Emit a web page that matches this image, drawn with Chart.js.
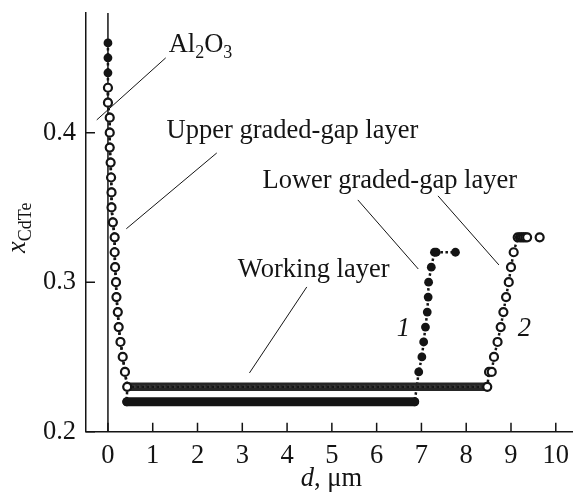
<!DOCTYPE html>
<html>
<head>
<meta charset="utf-8">
<script src="https://cdn.jsdelivr.net/npm/chart.js@4.4.1/dist/chart.umd.min.js"></script>
<style>
  html, body { margin: 0; padding: 0; background: #fff; }
  #wrap { width: 579px; height: 500px; }
</style>
</head>
<body>
<div id="wrap"><canvas id="profile" width="579" height="500"></canvas></div>
<script>
// profile 1 (filled dots): depth d (um) and CdTe fraction
var d1 = [0, 0, 0, 0, 0, 0.04, 0.04, 0.04, 0.06, 0.07, 0.08, 0.08, 0.11, 0.15, 0.15, 0.16, 0.18, 0.19, 0.22, 0.24, 0.28, 0.33, 0.38, 0.43, 0.42,
          6.85, 6.94, 7.01, 7.05, 7.09, 7.13, 7.15, 7.16, 7.22, 7.29, 7.33, 7.76];
var x1 = [0.46, 0.45, 0.44, 0.43, 0.42, 0.41, 0.40, 0.39, 0.38, 0.37, 0.36, 0.35, 0.34, 0.33, 0.32, 0.31, 0.30, 0.29, 0.28, 0.27, 0.26, 0.25, 0.24, 0.23, 0.22,
          0.22, 0.24, 0.25, 0.26, 0.27, 0.28, 0.29, 0.30, 0.31, 0.32, 0.32, 0.32];
// working layer of profile 1, too dense to resolve single dots
var d1Band = [0.42, 6.85];
var x1Band = [0.22, 0.22];

// profile 2 (open dots)
var d2 = [0, 0, 0.04, 0.04, 0.04, 0.06, 0.07, 0.08, 0.08, 0.11, 0.15, 0.15, 0.16, 0.18, 0.19, 0.22, 0.24, 0.28, 0.33, 0.38, 0.43,
          8.47, 8.51, 8.57, 8.62, 8.70, 8.77, 8.83, 8.89, 8.95, 9.00, 9.06, 9.15, 9.20, 9.24, 9.28, 9.32, 9.36, 9.64];
var x2 = [0.43, 0.42, 0.41, 0.40, 0.39, 0.38, 0.37, 0.36, 0.35, 0.34, 0.33, 0.32, 0.31, 0.30, 0.29, 0.28, 0.27, 0.26, 0.25, 0.24, 0.23,
          0.23, 0.24, 0.24, 0.25, 0.26, 0.27, 0.28, 0.29, 0.30, 0.31, 0.32, 0.33, 0.33, 0.33, 0.33, 0.33, 0.33, 0.33];
var d2Band = [0.43, 8.47];
var x2Band = [0.23, 0.23];

// substrate interface
var dEdge = [0, 0];
var xEdge = [0.2, 0.48];

var yTicks = [0.2, 0.3, 0.4];

function pts(ds, xs) {
  return ds.map(function (d, i) { return { x: d, y: xs[i] }; });
}

var FONT = '"Liberation Serif", "Times New Roman", serif';
var INK = '#141414';

// callouts, in data units
var leaders = [
  [1.29, 0.450, -0.25, 0.4085],
  [2.43, 0.3864, 0.41, 0.3357],
  [5.58, 0.355, 6.93, 0.3088],
  [7.37, 0.3577, 8.73, 0.3115],
  [4.44, 0.2968, 3.16, 0.2393]
];
var notes = [
  { d: 1.355, x: 0.454, runs: [{ t: 'Al' }, { t: '2', sub: true }, { t: 'O' }, { t: '3', sub: true }] },
  { d: 1.31, x: 0.3965, runs: [{ t: 'Upper graded-gap layer' }] },
  { d: 3.45, x: 0.363, runs: [{ t: 'Lower graded-gap layer' }] },
  { d: 2.90, x: 0.3035, runs: [{ t: 'Working layer' }] },
  { d: 6.45, x: 0.264, runs: [{ t: '1', it: true }] },
  { d: 9.15, x: 0.264, runs: [{ t: '2', it: true }] }
];

function runFont(r) {
  return (r.it ? 'italic ' : '') + (r.sub ? 18 : 26.5) + 'px ' + FONT;
}
function runsWidth(ctx, runs) {
  var w = 0;
  runs.forEach(function (r) { ctx.font = runFont(r); w += ctx.measureText(r.t).width; });
  return w;
}
function drawRuns(ctx, runs, x, y) {
  runs.forEach(function (r) {
    ctx.font = runFont(r);
    ctx.fillText(r.t, x, y + (r.sub ? 6 : 0));
    x += ctx.measureText(r.t).width;
  });
}

var decor = {
  id: 'decor',
  afterDraw: function (chart) {
    var ctx = chart.ctx, xs = chart.scales.x, ys = chart.scales.y, a = chart.chartArea;
    ctx.save();
    ctx.strokeStyle = INK;
    ctx.fillStyle = INK;

    // inward ticks
    ctx.lineWidth = 1.5;
    ctx.beginPath();
    xs.ticks.forEach(function (t) {
      var px = xs.getPixelForValue(t.value);
      ctx.moveTo(px, a.bottom);
      ctx.lineTo(px, a.bottom - 9);
    });
    ys.ticks.forEach(function (t) {
      var py = ys.getPixelForValue(t.value);
      ctx.moveTo(a.left, py);
      ctx.lineTo(a.left + 9, py);
    });
    ctx.stroke();

    // callout lines
    ctx.lineWidth = 1;
    leaders.forEach(function (l) {
      ctx.beginPath();
      ctx.moveTo(xs.getPixelForValue(l[0]), ys.getPixelForValue(l[1]));
      ctx.lineTo(xs.getPixelForValue(l[2]), ys.getPixelForValue(l[3]));
      ctx.stroke();
    });

    ctx.textBaseline = 'alphabetic';
    ctx.textAlign = 'left';
    notes.forEach(function (n) {
      drawRuns(ctx, n.runs, xs.getPixelForValue(n.d), ys.getPixelForValue(n.x));
    });

    // x axis title
    var xt = [{ t: 'd', it: true }, { t: ', \u03bcm' }];
    var w = runsWidth(ctx, xt);
    drawRuns(ctx, xt, (a.left + a.right) / 2 + 2 - w / 2, 486);

    // y axis title
    ctx.translate(25, 253);
    ctx.rotate(-Math.PI / 2);
    drawRuns(ctx, [{ t: 'x', it: true }, { t: 'CdTe', sub: true }], 0, 0);
    ctx.restore();
  }
};

var dotted = [2.5, 2.5];

new Chart(document.getElementById('profile').getContext('2d'), {
  type: 'scatter',
  data: {
    datasets: [
      {
        data: pts(d2, x2), order: 0, showLine: true,
        borderColor: INK, borderWidth: 2.5, borderDash: dotted,
        pointRadius: 4, pointBorderWidth: 2.2, pointBorderColor: INK, pointBackgroundColor: '#fff',
        segment: { borderColor: function (c) { return c.p1DataIndex === d2.length - 1 ? 'rgba(0,0,0,0)' : undefined; } }
      },
      {
        data: pts(d2Band, x2Band), order: 1, showLine: true,
        borderColor: '#6e6e6e', borderWidth: 2.5, borderDash: [3, 2], pointRadius: 0
      },
      {
        data: pts(d2Band, x2Band), order: 2, showLine: true,
        borderColor: '#262626', borderWidth: 8.5, borderCapStyle: 'round', pointRadius: 0
      },
      {
        data: pts(d1Band, x1Band), order: 3, showLine: true,
        borderColor: INK, borderWidth: 9, borderCapStyle: 'round', pointRadius: 0
      },
      {
        data: pts(d1, x1), order: 4, showLine: true,
        borderColor: INK, borderWidth: 2.5, borderDash: dotted,
        pointRadius: 4.4, pointBorderWidth: 0, pointBackgroundColor: INK
      },
      {
        data: pts(dEdge, xEdge), order: 5, showLine: true,
        borderColor: INK, borderWidth: 1.5, pointRadius: 0
      }
    ]
  },
  options: {
    responsive: false,
    animation: false,
    layout: { padding: { top: 13, right: 0, bottom: 0, left: 0 } },
    plugins: { legend: { display: false }, tooltip: { enabled: false } },
    scales: {
      x: {
        type: 'linear', min: -0.49, max: 10.38,
        grid: { display: false, drawTicks: false },
        border: { display: true, color: INK, width: 1.5 },
        ticks: { stepSize: 1, includeBounds: false, padding: 8, color: INK, maxRotation: 0,
                 font: { family: FONT, size: 26.5 } },
        afterFit: function (s) { s.height = 68.3; s.paddingLeft = 0; s.paddingRight = 0; }
      },
      y: {
        type: 'linear', min: 0.2, max: 0.48,
        grid: { display: false, drawTicks: false },
        border: { display: true, color: INK, width: 1.5 },
        afterBuildTicks: function (s) { s.ticks = yTicks.map(function (v) { return { value: v }; }); },
        ticks: { padding: 10, color: INK, font: { family: FONT, size: 26.5 },
                 callback: function (v) { return v.toFixed(1); } },
        afterFit: function (s) { s.width = 86; s.paddingTop = 0; s.paddingBottom = 0; }
      }
    }
  },
  plugins: [decor]
});
</script>
</body>
</html>
